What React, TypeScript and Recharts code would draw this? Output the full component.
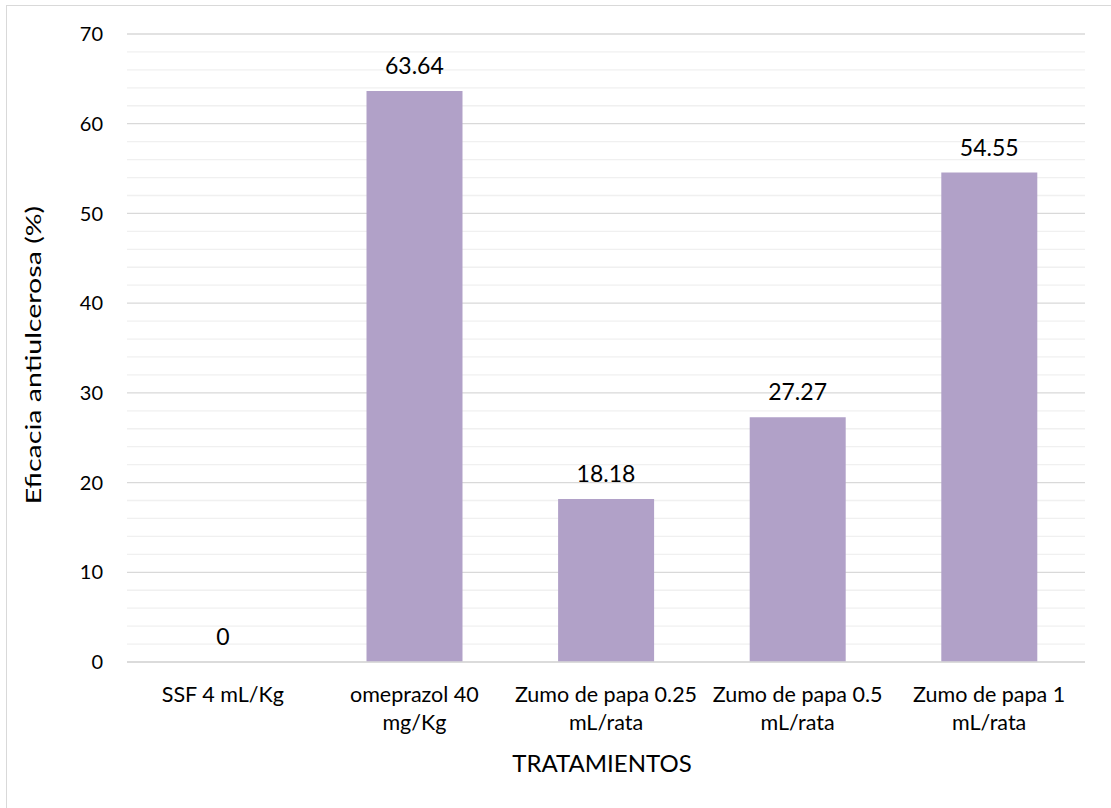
import React from 'react'
import {
  ComposedChart, Bar, Line, XAxis, YAxis, CartesianGrid, LabelList
} from 'recharts'

const tratamientos = [
  'SSF 4 mL/Kg',
  'omeprazol 40 mg/Kg',
  'Zumo de papa 0.25 mL/rata',
  'Zumo de papa 0.5 mL/rata',
  'Zumo de papa 1 mL/rata'
]
const lineasEtiqueta = [
  ['SSF 4 mL/Kg'],
  ['omeprazol 40', 'mg/Kg'],
  ['Zumo de papa 0.25', 'mL/rata'],
  ['Zumo de papa 0.5', 'mL/rata'],
  ['Zumo de papa 1', 'mL/rata']
]
const eficacia = [0, 63.64, 18.18, 27.27, 54.55]
const ticksY = [0, 10, 20, 30, 40, 50, 60, 70]
const ticksMenores = [2, 4, 6, 8, 12, 14, 16, 18, 22, 24, 26, 28, 32, 34, 36, 38, 42, 44, 46, 48, 52, 54, 56, 58, 62, 64, 66, 68]
const dominioY = [0, 70]

const datos = tratamientos.map((nombre, i) => ({
  nombre,
  valor: eficacia[i]
}))

const fuente = 'Lato, "Open Sans", sans-serif'
const colorTexto = '#000000'

// lineas de rejilla menores (cada 2 unidades), detras de las barras
function lineasMenores(props: any) {
  const eje = props.yAxis || {}
  if (typeof eje.scale === 'function') return ticksMenores.map(v => eje.scale(v))
  const r = eje.range
  if (Array.isArray(r) && r.length === 2) {
    const [d0, d1] = dominioY
    return ticksMenores.map(v => r[0] + (r[1] - r[0]) * (v - d0) / (d1 - d0))
  }
  return []
}

function TickX(props: any) {
  const { x, y, payload, index } = props
  const lineas = lineasEtiqueta[index] || [payload.value]
  return (
    <g>
      {lineas.map((l: string, i: number) => (
        <text
          key={i}
          x={x}
          y={y + 32 + i * 28}
          textAnchor="middle"
          fontFamily={fuente}
          fontSize={21.5}
          fill={colorTexto}
        >
          {l}
        </text>
      ))}
    </g>
  )
}

export default function App() {
  return (
    <div style={{ position: 'absolute', left: 0, top: 0, width: 1111, height: 808, background: '#fff', overflow: 'hidden' }}>
      <div style={{ position: 'absolute', left: 6, top: 5, width: 1120, height: 820, border: '1px solid #d9d9d9', boxSizing: 'border-box' }} />
      <div style={{ position: 'absolute', left: 0, top: 0 }}>
        <ComposedChart
          width={1111}
          height={808}
          data={datos}
          margin={{ top: 34, right: 26, bottom: 66, left: 67 }}
          barCategoryGap="25%"
        >
          <CartesianGrid
            vertical={false}
            stroke="#f0f0f0"
            strokeWidth={1.3}
            horizontalCoordinatesGenerator={lineasMenores}
          />
          <CartesianGrid vertical={false} stroke="#d9d9d9" strokeWidth={1.3} />
          <XAxis
            dataKey="nombre"
            axisLine={{ stroke: '#d9d9d9', strokeWidth: 1.3 }}
            tickLine={false}
            tick={<TickX />}
            interval={0}
            height={80}
            label={{
              content: () => (
                <text x={602} y={772} textAnchor="middle" fontFamily={fuente} fontSize={24} fill={colorTexto}>
                  TRATAMIENTOS
                </text>
              )
            }}
          />
          <YAxis
            domain={dominioY}
            ticks={ticksY}
            width={60}
            axisLine={false}
            tickLine={false}
            tickSize={0}
            tickMargin={24}
            tick={{ fontFamily: fuente, fontSize: 20, fill: colorTexto }}
            label={{
              content: () => (
                <text
                  x={0}
                  y={0}
                  transform="translate(33 355) rotate(-90) scale(1.36 1)"
                  textAnchor="middle"
                  dominantBaseline="central"
                  fontFamily={fuente}
                  fontSize={21}
                  fill={colorTexto}
                >
                  Eficacia antiulcerosa (%)
                </text>
              )
            }}
          />
          <Bar dataKey="valor" fill="#b1a1c8" isAnimationActive={false} />
          <Line
            dataKey="valor"
            stroke="none"
            dot={false}
            activeDot={false}
            isAnimationActive={false}
          >
            <LabelList
              dataKey="valor"
              position="top"
              offset={17}
              style={{ fontFamily: fuente, fontSize: 23, fill: colorTexto }}
            />
          </Line>
        </ComposedChart>
      </div>
    </div>
  )
}
